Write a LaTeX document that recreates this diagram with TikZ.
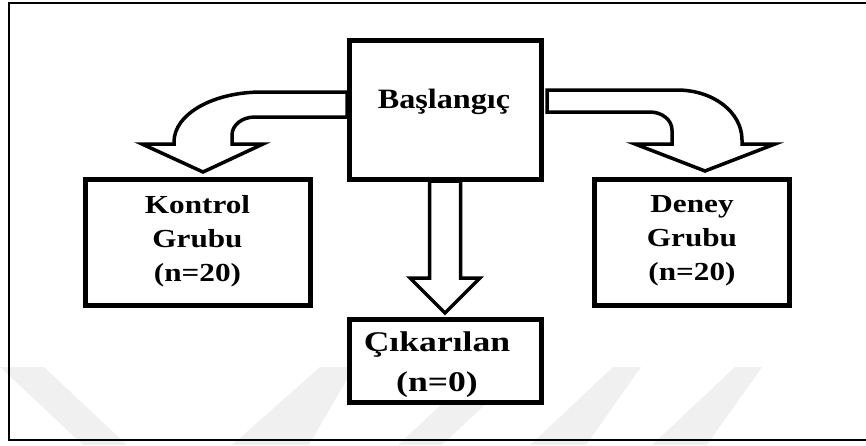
\documentclass[tikz,border=0pt]{standalone}
\usepackage{fontspec}
\setmainfont{Liberation Serif}[FakeStretch=1.2]
\newfontfamily\widefont{Liberation Serif}[FakeStretch=1.25]
\newfontfamily\midfont{Liberation Serif}[FakeStretch=1.15]
\begin{document}
\begin{tikzpicture}[x=1pt,y=-1pt,
  boxnode/.style={draw=black,line width=5pt,fill=white,inner sep=0pt,rectangle},
  lbl/.style={inner sep=0pt,align=center,font=\bfseries\fontsize{26}{34}\selectfont},
  blockarrow/.style={draw=black,line width=3.5pt,fill=white,line join=miter},
  wm/.style={fill=black!6,draw=none}]
\useasboundingbox (0,0) rectangle (866,445);
% faint watermark stripes
\fill[wm] (0,367) -- (44,367) -- (127,445) -- (83,445) -- cycle;
\fill[wm] (320,367) -- (354,367) -- (309,445) -- (232,445) -- cycle;
\fill[wm] (481,367) -- (525,367) -- (442,445) -- (398,445) -- cycle;
\fill[wm] (613,367) -- (641,367) -- (586,445) -- (530,445) -- cycle;
\fill[wm] (735,367) -- (762,367) -- (707,445) -- (652,445) -- cycle;
% outer frame
\draw[line width=2.2pt] (9,3) rectangle (880,440);
% block arrows
\draw[blockarrow] (347,92) -- (262,92) .. controls (213,92) and (174,114) .. (174,142)
  -- (174,144) -- (142,144) -- (203,172) -- (263,144) -- (232,144) -- (232,135)
  .. controls (232,125) and (242,117) .. (255,117) -- (347,117) -- cycle;
\draw[blockarrow] (547,90) -- (677,90) .. controls (713,90) and (742,112) .. (742,140)
  -- (742,144) -- (775,144) -- (705,171) -- (635,144) -- (672,144) -- (672,130)
  .. controls (672,120) and (662,112) .. (650,112) -- (547,112) -- cycle;
\draw[blockarrow] (429.5,181) -- (429.5,278) -- (410,278) -- (445,313) -- (480,278)
  -- (460.5,278) -- (460.5,181) -- cycle;
% boxes
\node[boxnode,minimum width=192pt,minimum height=139pt] (start) at (445.5,110) {};
\node[boxnode,minimum width=225pt,minimum height=126pt] (kontrol) at (198,242.5) {};
\node[boxnode,minimum width=195pt,minimum height=126pt] (deney) at (692,242.5) {};
\node[boxnode,minimum width=192pt,minimum height=83pt] (cikar) at (445.5,361) {};
% labels
\node[lbl,anchor=base,font=\midfont\bfseries\fontsize{28}{34}\selectfont] (startlbl) at (444,108) {Başlangıç};
\node[lbl,anchor=north] (kontrollbl) at (197.5,195) {Kontrol\\Grubu\\(n=20)};
\node[lbl,anchor=north] (deneylbl) at (692,195) {Deney\\Grubu\\(n=20)};
\node[lbl,anchor=north,font=\widefont\bfseries\fontsize{28.5}{40}\selectfont] (cikarlbl) at (437,332) {Çıkarılan\\(n=0)};
\end{tikzpicture}
\end{document}
